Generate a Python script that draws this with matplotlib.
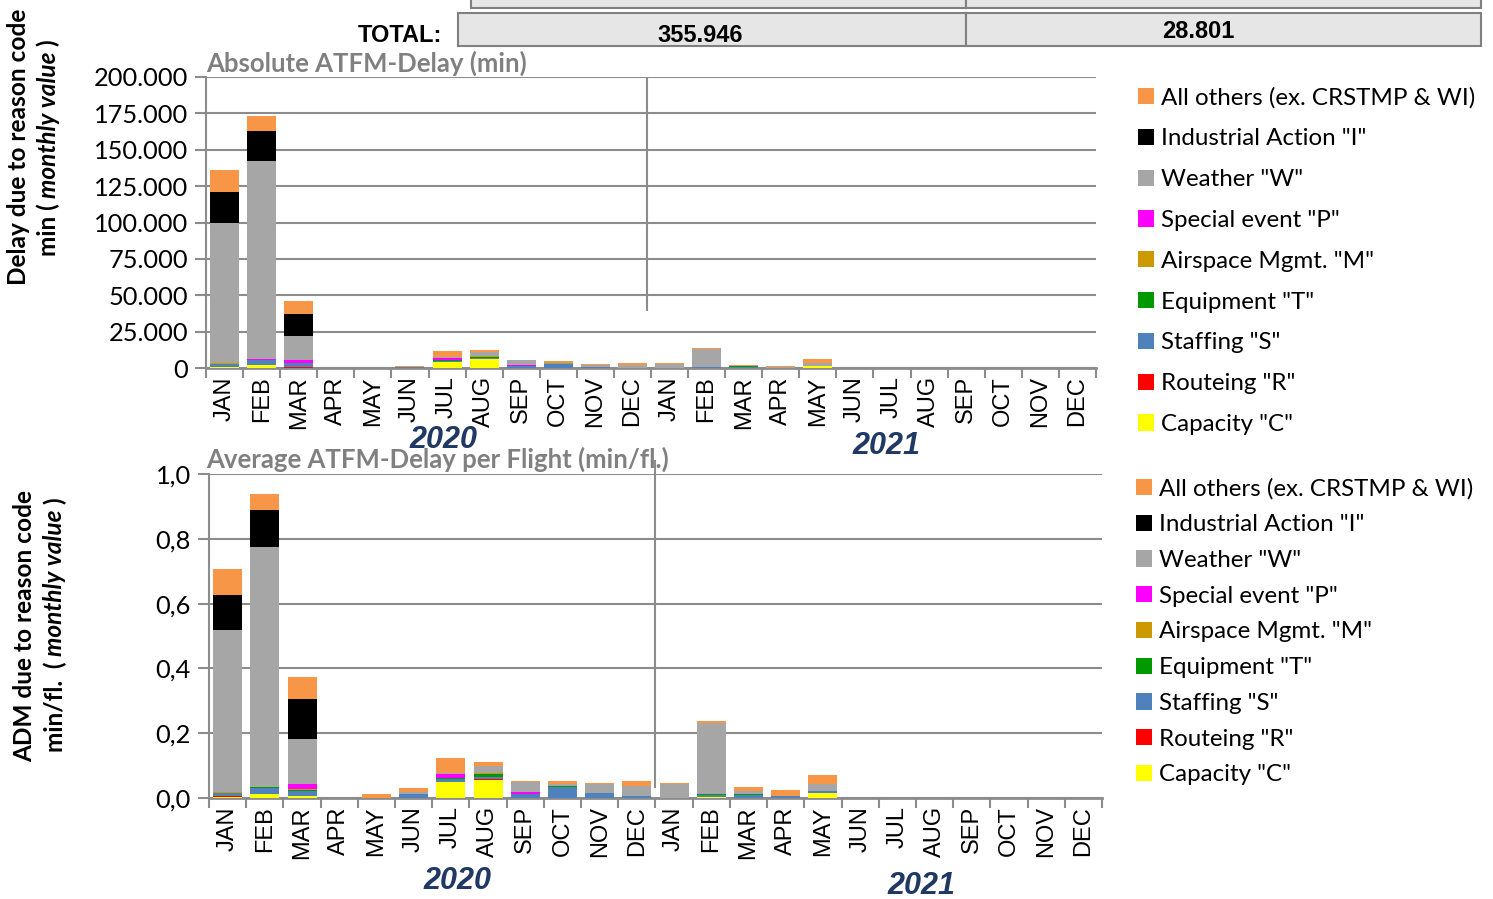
import numpy as np
import matplotlib.pyplot as plt
from matplotlib.patches import Rectangle, Patch
from matplotlib.ticker import FuncFormatter, MultipleLocator
from matplotlib.transforms import IdentityTransform

months = ['JAN', 'FEB', 'MAR', 'APR', 'MAY', 'JUN', 'JUL', 'AUG', 'SEP', 'OCT', 'NOV', 'DEC'] * 2

names = ['Capacity "C"', 'Routeing "R"', 'Staffing "S"', 'Equipment "T"', 'Airspace Mgmt. "M"',
         'Special event "P"', 'Weather "W"', 'Industrial Action "I"', 'All others (ex. CRSTMP & WI)']
colors = ['#FFFF00', '#FF0000', '#4F81BD', '#009900', '#CC9900',
          '#FF00FF', '#A6A6A6', '#000000', '#F79646']


def pad(v):
    return np.array(v + [0] * (24 - len(v)), dtype=float)


# absolute ATFM delay (min), Jan 2020 .. May 2021
cap_min = pad([500, 1800, 300, 0, 0, 100, 4000, 6400, 100, 100, 0, 0, 0, 100, 0, 0, 1100])
rte_min = pad([300, 100, 100, 0, 0, 0, 200, 100, 100, 0, 0, 0, 0, 0, 0, 0, 0])
stf_min = pad([1800, 3500, 2800, 0, 0, 300, 800, 700, 1000, 2800, 900, 300, 300, 300, 1000, 300, 300])
eqp_min = pad([300, 300, 200, 0, 0, 0, 500, 700, 100, 100, 0, 0, 0, 300, 200, 0, 0])
asm_min = pad([200, 100, 100, 0, 0, 0, 200, 200, 100, 100, 0, 0, 0, 0, 0, 0, 0])
spe_min = pad([300, 100, 2000, 0, 0, 0, 1200, 100, 400, 100, 0, 0, 0, 0, 0, 0, 0])
wea_min = pad([96500, 136600, 16300, 0, 100, 300, 500, 3000, 3400, 800, 1500, 2000, 2500, 12600, 300, 200, 2300])
ind_min = pad([21000, 20700, 15400])
oth_min = pad([15300, 9700, 8600, 0, 200, 600, 4000, 1400, 500, 1100, 200, 900, 300, 300, 800, 1100, 2300])

# average ATFM delay per flight (min/fl.)
cap_avg = pad([0.004, 0.012, 0.006, 0, 0, 0.001, 0.048, 0.057, 0.001, 0, 0, 0, 0, 0.002, 0, 0, 0.016])
rte_avg = pad([0.002, 0.001, 0.001, 0, 0, 0, 0.001, 0.001])
stf_avg = pad([0.008, 0.018, 0.015, 0, 0.001, 0.012, 0.010, 0.007, 0.010, 0.035, 0.014, 0.005, 0.001, 0.006, 0.008, 0.005, 0.005])
eqp_avg = pad([0.002, 0.002, 0.004, 0, 0, 0, 0.002, 0.010, 0.001, 0.001, 0, 0, 0, 0.004, 0.003, 0, 0])
asm_avg = pad([0.001, 0.001, 0.001, 0, 0, 0, 0.001, 0.001])
spe_avg = pad([0.001, 0.001, 0.017, 0, 0, 0, 0.012, 0.001, 0.006])
wea_avg = pad([0.502, 0.740, 0.137, 0, 0, 0.007, 0.003, 0.023, 0.031, 0.008, 0.030, 0.032, 0.041, 0.221, 0.012, 0, 0.023])
ind_avg = pad([0.108, 0.114, 0.124])
oth_avg = pad([0.080, 0.048, 0.068, 0, 0.011, 0.011, 0.045, 0.011, 0.002, 0.009, 0.002, 0.015, 0.004, 0.005, 0.012, 0.020, 0.026])

top_series = [cap_min, rte_min, stf_min, eqp_min, asm_min, spe_min, wea_min, ind_min, oth_min]
bot_series = [cap_avg, rte_avg, stf_avg, eqp_avg, asm_avg, spe_avg, wea_avg, ind_avg, oth_avg]

total_labels = ['355.946', '28.801']

GRID = '#8c8c8c'
CAL = 'Lato'
ARI = 'Liberation Sans'

W, H = 1493, 899
fig = plt.figure(figsize=(W / 100, H / 100), dpi=100)
ax1 = fig.add_axes([206 / W, 1 - 368 / H, 890 / W, 291 / H])
ax2 = fig.add_axes([209 / W, 1 - 798 / H, 893 / W, 324 / H])

x = np.arange(24)


def stack(ax, series):
    bottom = np.zeros(24)
    for vals, name, col in zip(series, names, colors):
        ax.bar(x, vals, 0.78, bottom=bottom, color=col, label=name, zorder=3)
        bottom += vals


def style(ax, ymax, step, fmt):
    ax.set_xlim(-0.5, 23.5)
    ax.set_ylim(0, ymax)
    ax.yaxis.set_major_locator(MultipleLocator(step))
    ax.yaxis.set_major_formatter(FuncFormatter(fmt))
    ax.grid(axis='y', color=GRID, lw=1.5, zorder=0)
    ax.set_axisbelow(True)
    for s in ['top', 'right']:
        ax.spines[s].set_visible(False)
    ax.spines['left'].set_color(GRID)
    ax.spines['left'].set_linewidth(1.5)
    ax.spines['bottom'].set_color(GRID)
    ax.spines['bottom'].set_linewidth(2)
    ax.set_xticks(np.arange(-0.5, 24, 1))
    ax.set_xticklabels([])
    ax.set_xticks(x, minor=True)
    ax.set_xticklabels(months, minor=True, rotation=90, fontsize=17, family=ARI)
    ax.tick_params(axis='x', which='major', length=7, width=1.5, color=GRID)
    ax.tick_params(axis='x', which='minor', length=0, pad=6)
    ax.tick_params(axis='y', length=8, width=1.5, color=GRID, labelsize=18.3, pad=5)
    for lab in ax.get_yticklabels():
        lab.set_family(CAL)


stack(ax1, top_series)
style(ax1, 200000, 25000, lambda v, _: f'{int(round(v)):,}'.replace(',', '.'))
ax1.axvline(11.4, ymin=0.2, ymax=1.0, color=GRID, lw=1.5, zorder=4)
ax1.text(0, 1.005, 'Absolute ATFM-Delay (min)', transform=ax1.transAxes, ha='left', va='bottom',
         fontsize=18.5, fontweight='bold', color='#808080', family=CAL)

stack(ax2, bot_series)
style(ax2, 1.0, 0.2, lambda v, _: f'{v:.1f}'.replace('.', ','))
ax2.axvline(11.5, ymin=0.035, ymax=1.04, color=GRID, lw=1.5, zorder=4, clip_on=False)
ax2.text(-0.003, 1.005, 'Average ATFM-Delay per Flight (min/fl.)', transform=ax2.transAxes,
         ha='left', va='bottom', fontsize=18.5, fontweight='bold', color='#808080', family=CAL)

# legends
handles = [Patch(facecolor=c, label=n) for n, c in zip(names, colors)][::-1]
fig.legend(handles=handles, loc='upper left', bbox_to_anchor=(1138 / W, 1 - 87 / H), frameon=False,
           prop={'family': CAL, 'size': 17.4}, handlelength=0.65, handleheight=0.65,
           handletextpad=0.3, labelspacing=0.82, borderpad=0, borderaxespad=0)
fig.legend(handles=handles, loc='upper left', bbox_to_anchor=(1136 / W, 1 - 478 / H), frameon=False,
           prop={'family': CAL, 'size': 17.4}, handlelength=0.65, handleheight=0.65,
           handletextpad=0.3, labelspacing=0.61, borderpad=0, borderaxespad=0)

# year labels
for xp, yp, s in [(443, 440, '2020'), (886, 446, '2021'), (457, 881, '2020'), (921, 886, '2021')]:
    fig.text(xp / W, 1 - yp / H, s, ha='center', va='center', fontsize=22, fontweight='bold',
             fontstyle='italic', color='#1F3864', family=ARI)

# header table
box = dict(transform=fig.transFigure, facecolor='#e6e6e6', edgecolor='#808080', lw=1.5)
fig.patches.append(Rectangle((471 / W, 1 - 8 / H), 495 / W, 20 / H, **box))
fig.patches.append(Rectangle((966 / W, 1 - 8 / H), 515 / W, 20 / H, **box))
fig.patches.append(Rectangle((458 / W, 1 - 46 / H), 508 / W, 33 / H, **box))
fig.patches.append(Rectangle((966 / W, 1 - 46 / H), 515 / W, 33 / H, **box))
fig.text(442 / W, 1 - 35 / H, 'TOTAL:', ha='right', va='center', fontsize=17, fontweight='bold', family=ARI)
fig.text(700 / W, 1 - 35 / H, total_labels[0], ha='center', va='center', fontsize=17, fontweight='bold', family=ARI)
fig.text(1198 / W, 1 - 32 / H, total_labels[1], ha='center', va='center', fontsize=17, fontweight='bold', family=ARI)


def vlabel(xp, yc, parts, size):
    r = fig.canvas.get_renderer()
    objs = []
    for s, st in parts:
        t = fig.text(0, 0, s, rotation=90, rotation_mode='anchor', ha='left', va='center',
                     fontsize=size, fontweight='bold', fontstyle=st, family=CAL,
                     transform=IdentityTransform())
        objs.append(t)
    gap = size * 0.3
    lens = [t.get_window_extent(r).height for t in objs]
    total = sum(lens) + gap * (len(objs) - 1)
    y = (H - yc) - total / 2
    for t, l in zip(objs, lens):
        t.set_position((xp, y))
        y += l + gap


vlabel(18, 147, [('Delay due to reason code', 'normal')], 17.6)
vlabel(48, 148, [('min (', 'normal'), ('monthly value', 'italic'), (')', 'normal')], 17.6)
vlabel(25, 626, [('ADM due to reason code', 'normal')], 17.6)
vlabel(55, 625, [('min/fl.  (', 'normal'), ('monthly value', 'italic'), (')', 'normal')], 17.6)

fig.savefig('out.png', dpi=100)
